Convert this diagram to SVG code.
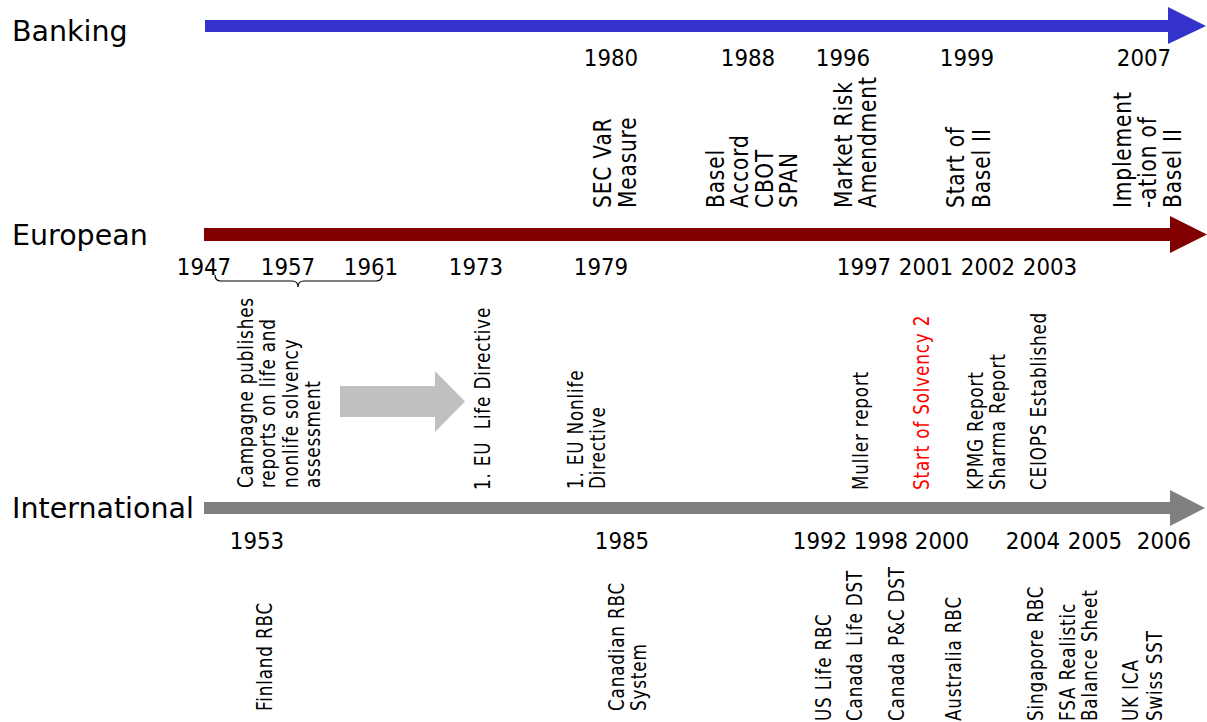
<svg xmlns="http://www.w3.org/2000/svg" width="1207" height="722" viewBox="0 0 1207 722">
  <style>
    text { font-family: "DejaVu Sans", Verdana, sans-serif; fill: #000; }
    .title { font-size: 28.5px; }
    .year { font-size: 23.5px; text-anchor: middle; }
    .bk { font-size: 24px; letter-spacing: 1px; }
    .ev { font-size: 20.5px; letter-spacing: 1px; }
    .red { fill: #FF0000; }
  </style>
  <rect width="1207" height="722" fill="#fff"/>

  <!-- timelines -->
  <g id="banking">
    <text class="title" x="12" y="41">Banking</text>
    <polygon fill="#3333CC" points="205,20 1168,20 1168,7 1206,26 1168,44 1168,32 205,32"/>
  </g>
  <g id="european">
    <text class="title" x="12" y="245">European</text>
    <polygon fill="#800000" points="204,228 1170,228 1170,216 1207,234.5 1170,253 1170,241 204,241"/>
  </g>
  <g id="international">
    <text class="title" x="12" y="518">International</text>
    <polygon fill="#808080" points="204,502 1170,502 1170,490 1205,508 1170,526 1170,514 204,514"/>
  </g>

  <!-- banking events -->
  <g id="b1980"><text class="year" transform="translate(611 66) scale(.91 1)">1980</text>
    <text class="bk" transform="translate(611 208) rotate(-90) scale(.84 1)"><tspan x="0">SEC VaR</tspan><tspan x="0" dy="25">Measure</tspan></text></g>
  <g id="b1988"><text class="year" transform="translate(748 66) scale(.91 1)">1988</text>
    <text class="bk" transform="translate(724 208) rotate(-90) scale(.84 1)"><tspan x="0">Basel</tspan><tspan x="0" dy="24.3">Accord</tspan><tspan x="0" dy="24.3">CBOT</tspan><tspan x="0" dy="24.3">SPAN</tspan></text></g>
  <g id="b1996"><text class="year" transform="translate(843 66) scale(.91 1)">1996</text>
    <text class="bk" transform="translate(852 208) rotate(-90) scale(.84 1)"><tspan x="0">Market Risk</tspan><tspan x="0" dy="24">Amendment</tspan></text></g>
  <g id="b1999"><text class="year" transform="translate(967 66) scale(.91 1)">1999</text>
    <text class="bk" transform="translate(964 208) rotate(-90) scale(.84 1)"><tspan x="0">Start of</tspan><tspan x="0" dy="26">Basel II</tspan></text></g>
  <g id="b2007"><text class="year" transform="translate(1144 66) scale(.91 1)">2007</text>
    <text class="bk" transform="translate(1131 208) rotate(-90) scale(.84 1)"><tspan x="0">Implement</tspan><tspan x="0" dy="25">-ation of</tspan><tspan x="0" dy="25">Basel II</tspan></text></g>

  <!-- european events -->
  <g id="e1947"><text class="year" transform="translate(204 275) scale(.91 1)">1947</text></g>
  <g id="e1957"><text class="year" transform="translate(288 275) scale(.91 1)">1957</text>
    <text class="ev" transform="translate(253 488) rotate(-90) scale(.82 1)"><tspan x="0">Campagne publishes</tspan><tspan x="0" dy="22.5">reports on life and</tspan><tspan x="0" dy="22.5">nonlife solvency</tspan><tspan x="0" dy="22.5">assessment</tspan></text></g>
  <g id="e1961"><text class="year" transform="translate(371 275) scale(.91 1)">1961</text></g>
  <g id="e1973"><text class="year" transform="translate(476 275) scale(.91 1)">1973</text>
    <text class="ev" transform="translate(490 490) rotate(-90) scale(.82 1)" xml:space="preserve">1. EU  Life Directive</text></g>
  <g id="e1979"><text class="year" transform="translate(601 275) scale(.91 1)">1979</text>
    <text class="ev" transform="translate(583 489) rotate(-90) scale(.82 1)"><tspan x="0">1. EU Nonlife</tspan><tspan x="0" dy="22">Directive</tspan></text></g>
  <g id="e1997"><text class="year" transform="translate(864 275) scale(.91 1)">1997</text>
    <text class="ev" transform="translate(868 490) rotate(-90) scale(.82 1)">Muller report</text></g>
  <g id="e2001"><text class="year" transform="translate(926 275) scale(.91 1)">2001</text>
    <text class="ev red" transform="translate(929 490) rotate(-90) scale(.82 1)">Start of Solvency 2</text></g>
  <g id="e2002"><text class="year" transform="translate(988 275) scale(.91 1)">2002</text>
    <text class="ev" transform="translate(983 490) rotate(-90) scale(.82 1)"><tspan x="0">KPMG Report</tspan><tspan x="0" dy="22">Sharma Report</tspan></text></g>
  <g id="e2003"><text class="year" transform="translate(1050 275) scale(.91 1)">2003</text>
    <text class="ev" transform="translate(1046 490) rotate(-90) scale(.82 1)">CEIOPS Established</text></g>

  <!-- international events -->
  <g id="i1953"><text class="year" transform="translate(257 549) scale(.91 1)">1953</text>
    <text class="ev" transform="translate(272 711) rotate(-90) scale(.82 1)">Finland RBC</text></g>
  <g id="i1985"><text class="year" transform="translate(622 549) scale(.91 1)">1985</text>
    <text class="ev" transform="translate(624 711) rotate(-90) scale(.82 1)"><tspan x="0">Canadian RBC</tspan><tspan x="0" dy="22">System</tspan></text></g>
  <g id="i1992"><text class="year" transform="translate(820 549) scale(.91 1)">1992</text>
    <text class="ev" transform="translate(831 721) rotate(-90) scale(.82 1)">US Life RBC</text>
    <text class="ev" transform="translate(862 721) rotate(-90) scale(.82 1)">Canada Life DST</text></g>
  <g id="i1998"><text class="year" transform="translate(881 549) scale(.91 1)">1998</text>
    <text class="ev" transform="translate(904 721) rotate(-90) scale(.82 1)">Canada P&amp;C DST</text></g>
  <g id="i2000"><text class="year" transform="translate(942 549) scale(.91 1)">2000</text>
    <text class="ev" transform="translate(961 721) rotate(-90) scale(.82 1)">Australia RBC</text></g>
  <g id="i2004"><text class="year" transform="translate(1033 549) scale(.91 1)">2004</text>
    <text class="ev" transform="translate(1043 721) rotate(-90) scale(.82 1)">Singapore RBC</text></g>
  <g id="i2005"><text class="year" transform="translate(1095 549) scale(.91 1)">2005</text>
    <text class="ev" transform="translate(1075 721) rotate(-90) scale(.82 1)"><tspan x="0">FSA Realistic</tspan><tspan x="0" dy="22">Balance Sheet</tspan></text></g>
  <g id="i2006"><text class="year" transform="translate(1164 549) scale(.91 1)">2006</text>
    <text class="ev" transform="translate(1138 721) rotate(-90) scale(.82 1)"><tspan x="0">UK ICA</tspan><tspan x="0" dy="24">Swiss SST</tspan></text></g>

  <!-- connectors: brace over 1947–1961 and block arrow toward the Life Directive -->
  <g id="connectors">
    <path d="M215,275 Q215,281 221,281 L292,281 Q298,281 298,287 Q298,281 304,281 L376,281 Q382,281 382,275" fill="none" stroke="#000" stroke-width="1.2"/>
    <polygon fill="#C0C0C0" points="340,386 435,386 435,371 465,401.5 435,432 435,417 340,417"/>
  </g>
</svg>
